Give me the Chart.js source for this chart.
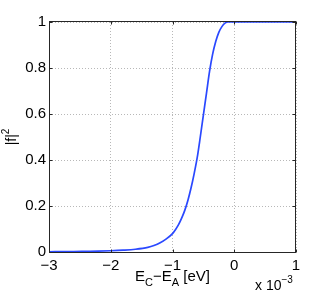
<!DOCTYPE html>
<html>
<head>
<meta charset="utf-8">
<script src="https://cdn.jsdelivr.net/npm/chart.js@4"></script>
<style>
html,body{margin:0;padding:0;background:#fff;}
#wrap{width:327px;height:291px;position:relative;}
</style>
</head>
<body>
<div id="wrap"><canvas id="c" width="327" height="291"></canvas></div>
<script>
// x in units of 1e-3 eV
const xValues = [-3, -2.8, -2.6, -2.4, -2.2, -2.0, -1.8, -1.6, -1.4, -1.3, -1.2, -1.1, -1.0, -0.95, -0.9, -0.85, -0.8, -0.75, -0.7, -0.65, -0.6, -0.55, -0.5, -0.45, -0.4, -0.35, -0.3, -0.25, -0.2, -0.15, -0.1, 0, 0.5, 1];
const fSquared = [0.001, 0.0015, 0.002, 0.003, 0.004, 0.0055, 0.008, 0.012, 0.020, 0.028, 0.040, 0.057, 0.080, 0.098, 0.120, 0.148, 0.182, 0.225, 0.278, 0.340, 0.410, 0.500, 0.595, 0.690, 0.785, 0.860, 0.915, 0.955, 0.980, 0.995, 1.0, 1.0, 1.0, 1.0];
const xTicks = [-3, -2, -1, 0, 1];
const yTicks = [0, 0.2, 0.4, 0.6, 0.8, 1];
const xTickLabels = ['\u22123', '\u22122', '\u22121', '0', '1'];
const yTickLabels = ['0', '0.2', '0.4', '0.6', '0.8', '1'];

const FONT = '"Liberation Sans", Arial, Helvetica, sans-serif';

const points = xValues.map((x, i) => ({x: x, y: fSquared[i]}));

const framePlugin = {
  id: 'frame',
  afterDraw(chart) {
    const ctx = chart.ctx;
    const a = chart.chartArea;
    const xs = chart.scales.x, ys = chart.scales.y;
    ctx.save();
    ctx.strokeStyle = '#262626';
    ctx.lineWidth = 1;
    const L = Math.round(a.left) + 0.5, R = Math.round(a.right) - 0.5;
    const T = Math.round(a.top) - 0.5, B = Math.round(a.bottom) + 0.5;
    ctx.strokeRect(L, T, R - L, B - T);
    // inward ticks
    const tl = 3;
    ctx.beginPath();
    xTicks.forEach(v => {
      const px = Math.round(xs.getPixelForValue(v)) + 0.5;
      ctx.moveTo(px, B); ctx.lineTo(px, B - tl);
      ctx.moveTo(px, T); ctx.lineTo(px, T + tl);
    });
    yTicks.forEach(v => {
      const py = Math.round(ys.getPixelForValue(v)) + 0.5;
      ctx.moveTo(L, py); ctx.lineTo(L + tl, py);
      ctx.moveTo(R, py); ctx.lineTo(R - tl, py);
    });
    ctx.stroke();

    ctx.fillStyle = '#000';
    ctx.textBaseline = 'alphabetic';
    // x-axis title: E_C − E_A [eV]
    const big = '15px ' + FONT, small = '11px ' + FONT;
    const parts = [['E', big, 0], ['C', small, 5], ['\u2212E', big, 0], ['A', small, 5], [' [eV]', big, 0]];
    let total = 0;
    parts.forEach(p => { ctx.font = p[1]; total += ctx.measureText(p[0]).width; });
    let cx = (a.left + a.right) / 2 - total / 2;
    const baseX = 281;
    parts.forEach(p => { ctx.font = p[1]; ctx.fillText(p[0], cx, baseX + p[2]); cx += ctx.measureText(p[0]).width; });

    // exponent label x 10^-3
    ctx.font = '14px ' + FONT;
    const s1 = 'x 10';
    ctx.fillText(s1, 255, 290);
    const w1 = ctx.measureText(s1).width;
    ctx.font = '10px ' + FONT;
    ctx.fillText('\u22123', 255 + w1, 283);

    // y-axis title |f|^2
    ctx.save();
    ctx.translate(15.5, (a.top + a.bottom) / 2);
    ctx.rotate(-Math.PI / 2);
    ctx.font = '14px ' + FONT;
    const s2 = '|f|';
    const w2 = ctx.measureText(s2).width;
    ctx.font = '10px ' + FONT;
    const w3 = ctx.measureText('2').width;
    const start = -(w2 + w3) / 2;
    ctx.font = '14px ' + FONT;
    ctx.fillText(s2, start, 0);
    ctx.font = '10px ' + FONT;
    ctx.fillText('2', start + w2, -7);
    ctx.restore();
    ctx.restore();
  }
};

new Chart(document.getElementById('c'), {
  type: 'scatter',
  data: {
    datasets: [{
      data: points,
      showLine: true,
      borderColor: '#2a48ff',
      borderWidth: 1.7,
      pointRadius: 0,
      cubicInterpolationMode: 'monotone',
      fill: false,
      clip: {left: 1, right: 0, top: 2, bottom: 2}
    }]
  },
  options: {
    responsive: false,
    animation: false,
    devicePixelRatio: 1,
    layout: {padding: {top: 22, right: 31, left: 0, bottom: 0}},
    plugins: {legend: {display: false}, tooltip: {enabled: false}},
    scales: {
      x: {
        type: 'linear', min: -3, max: 1,
        afterBuildTicks(s) { s.ticks = xTicks.map(v => ({value: v})); },
        afterFit(s) { s.height = 39; },
        grid: {color: '#b8b8b8', lineWidth: 1, drawTicks: false},
        border: {display: false, dash: [1, 2]},
        ticks: {
          padding: 5, color: '#000', maxRotation: 0, autoSkip: false,
          font: {family: FONT, size: 15},
          callback(v) { const i = xTicks.indexOf(v); return i >= 0 ? xTickLabels[i] : ''; }
        }
      },
      y: {
        type: 'linear', min: 0, max: 1,
        afterBuildTicks(s) { s.ticks = yTicks.map(v => ({value: v})); },
        afterFit(s) { s.width = 49; },
        grid: {color: '#b8b8b8', lineWidth: 1, drawTicks: false},
        border: {display: false, dash: [1, 2]},
        ticks: {
          padding: 3, color: '#000', autoSkip: false,
          font: {family: FONT, size: 15},
          callback(v) { const i = yTicks.indexOf(v); return i >= 0 ? yTickLabels[i] : ''; }
        }
      }
    }
  },
  plugins: [framePlugin]
});
</script>
</body>
</html>
